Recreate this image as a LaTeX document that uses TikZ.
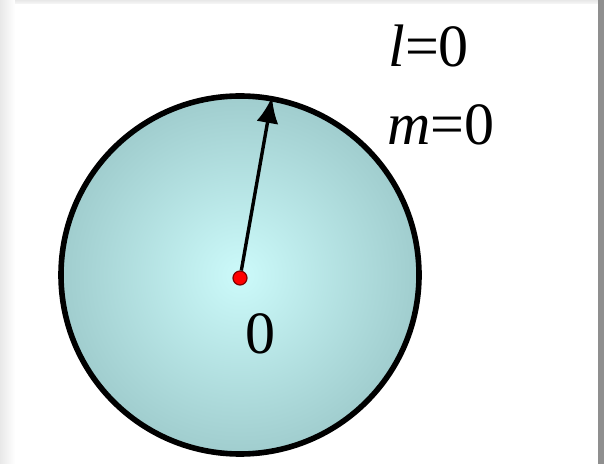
\documentclass[tikz,border=0pt]{standalone}
\usepackage{fontspec}
\setmainfont{Liberation Serif}
\usetikzlibrary{arrows.meta}
\definecolor{ballcore}{RGB}{204,250,250}
\definecolor{ballrim}{RGB}{160,205,206}
\begin{document}
\begin{tikzpicture}[x=0.5pt,y=-0.5pt,>={Latex[length=13pt,width=11pt]},
    qnum/.style={inner sep=0pt,anchor=base west,font=\fontsize{30}{32}\selectfont},
    dot/.style={circle,fill=red,draw=red!50!black,line width=0.6pt,inner sep=0pt,minimum size=7pt}]
  \useasboundingbox (0,0) rectangle (604,464);
  % page frame with shadow
  \fill[white] (0,0) rectangle (604,464);
  \shade[left color=black!9,right color=white] (0,0) rectangle (15,464);
  \shade[top color=black!9,bottom color=black!3] (15,0) rectangle (598,4);
  \fill[black!44] (598,0) rectangle (604,464);
  % the sphere
  \shadedraw[inner color=ballcore,outer color=ballrim,draw=black,line width=2.8pt]
    (240,275) circle (179);
  \coordinate (tip) at (272,97);
  \node[dot] (origin) at (240,278) {};
  \draw[->,line width=1.7pt] (origin) -- (tip);
  \node[qnum] (zero) at (245,353) {0};
  \node[qnum] (lval) at (388,67) {{\itshape l}=0};
  \node[qnum] (mval) at (387,145) {{\itshape m}=0};
\end{tikzpicture}
\end{document}
